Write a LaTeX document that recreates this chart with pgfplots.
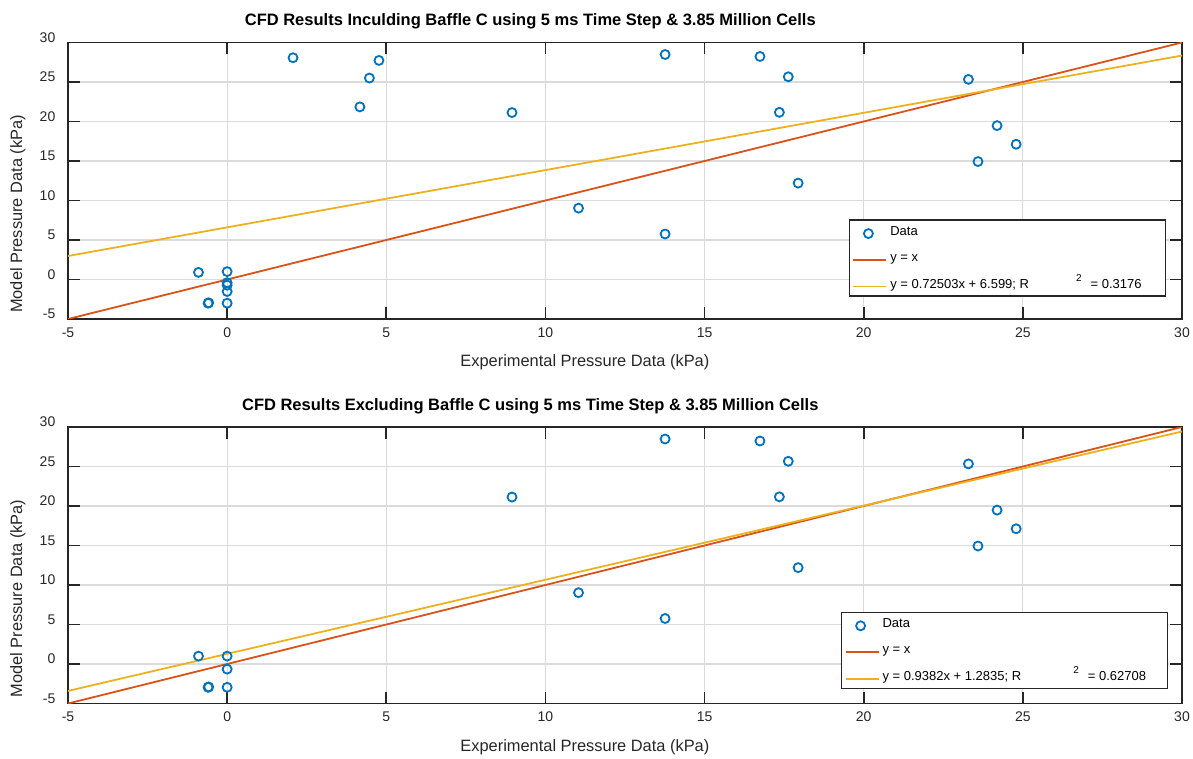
\documentclass[border=0pt]{standalone}
\usepackage{fontspec}
\setmainfont{Liberation Sans}
\usepackage{pgfplots}
\usepackage{pgfplotstable}
\pgfplotsset{compat=1.18}

\definecolor{mblue}{rgb}{0,0.447,0.741}
\definecolor{mred}{rgb}{0.85,0.325,0.098}
\definecolor{myel}{rgb}{0.929,0.694,0.125}
\definecolor{axgray}{HTML}{262626}

% top panel: all baffles
\pgfplotstableread{
x y
2.07 28.07
4.77 27.73
4.47 25.50
4.17 21.85
8.95 21.13
11.04 9.03
13.76 28.48
13.76 5.76
16.74 28.23
17.63 25.66
17.35 21.16
17.94 12.20
23.29 25.33
24.19 19.48
24.79 17.12
23.59 14.93
-0.90 0.90
0 1.00
0 -0.40
0 -0.72
0 -1.52
0 -3.00
-0.60 -3.00
-0.58 -2.95
}\incl

% bottom panel: baffle C removed
\pgfplotstableread{
x y
8.95 21.13
11.04 9.03
13.76 28.48
13.76 5.76
16.74 28.23
17.63 25.66
17.35 21.16
17.94 12.20
23.29 25.33
24.19 19.48
24.79 17.12
23.59 14.93
-0.90 1.00
0 1.00
0 -0.65
0 -2.95
-0.60 -2.95
-0.58 -2.90
}\excl

\pgfplotsset{
  cfd/.style={
    scale only axis, width=1114pt, height=276.5pt,
    xmin=-5, xmax=30, ymin=-5, ymax=30,
    xtick={-5,0,...,30}, ytick={-5,0,...,30},
    grid=major, grid style={black!14, line width=1.2pt},
    axis line style={axgray, line width=1.6pt},
    tick style={axgray, line width=1.6pt},
    major tick length=12pt, tick align=inside,
    /pgf/number format/assume math mode=true,
    ticklabel style={font=\fontsize{14}{16}\selectfont, text=axgray, inner sep=0pt},
    xticklabel style={anchor=center, yshift=-13.5pt},
    yticklabel style={anchor=east, xshift=-12.5pt, yshift=5pt},
    xlabel={Experimental Pressure Data (kPa)},
    ylabel={Model Pressure Data (kPa)},
    label style={font=\fontsize{16.4}{18}\selectfont, text=axgray},
    xlabel style={at={(axis description cs:0.464,-0.157)}, anchor=center},
    ylabel style={at={(axis description cs:-0.045,0.38)}, anchor=center, rotate=0},
    title style={font=\bfseries\fontsize{16.5}{18}\selectfont, at={(axis description cs:0.415,1.055)}, anchor=center},
    legend cell align=left,
    legend image code/.code={\draw[mark repeat=2,mark phase=2,##1] plot coordinates {(0pt,-2pt) (15pt,-2pt) (33pt,-2pt)};},
    legend style={draw=axgray, line width=1.2pt, fill=white,
      font=\fontsize{13}{15}\selectfont,
      nodes={inner sep=0pt, text height=10pt, text depth=3pt},
      inner xsep=3pt, inner ysep=5pt, row sep=13.5pt, column sep=3pt},
  },
}

\begin{document}
\begin{tikzpicture}
\begin{axis}[cfd, at={(68pt,439pt)}, anchor=south west,
    title={CFD Results Inculding Baffle C using 5 ms Time Step \& 3.85 Million Cells},
    legend style={at={(0.701,0.360)}, anchor=north west}]
  \addplot[only marks, mark=o, mark size=4.5pt, mblue, line width=1.8pt] table {\incl};
  \addlegendentry{Data}
  \addplot[mred, line width=1.8pt] coordinates {(-5,-5) (30,30)};
  \addlegendentry{y = x}
  \addplot[myel, line width=1.8pt] coordinates {(-5,2.974) (30,28.350)};
  \addlegendentry{\makebox[272pt][l]{y = 0.72503x + 6.599; R\hspace{47pt}\raisebox{7pt}{\fontsize{10}{10}\selectfont 2}\hspace{9pt}= 0.3176}}
\end{axis}

\begin{axis}[cfd, at={(68pt,54.5pt)}, anchor=south west,
    title={CFD Results Excluding Baffle C using 5 ms Time Step \& 3.85 Million Cells},
    legend style={at={(0.694,0.332)}, anchor=north west}]
  \addplot[only marks, mark=o, mark size=4.5pt, mblue, line width=1.8pt] table {\excl};
  \addlegendentry{Data}
  \addplot[mred, line width=1.8pt] coordinates {(-5,-5) (30,30)};
  \addlegendentry{y = x}
  \addplot[myel, line width=1.8pt] coordinates {(-5,-3.4075) (30,29.4295)};
  \addlegendentry{\makebox[282pt][l]{y = 0.9382x + 1.2835; R\hspace{52pt}\raisebox{7pt}{\fontsize{10}{10}\selectfont 2}\hspace{9pt}= 0.62708}}
\end{axis}
\pgfresetboundingbox
\useasboundingbox (0,0) rectangle (1193pt,758pt);
\end{tikzpicture}
\end{document}
